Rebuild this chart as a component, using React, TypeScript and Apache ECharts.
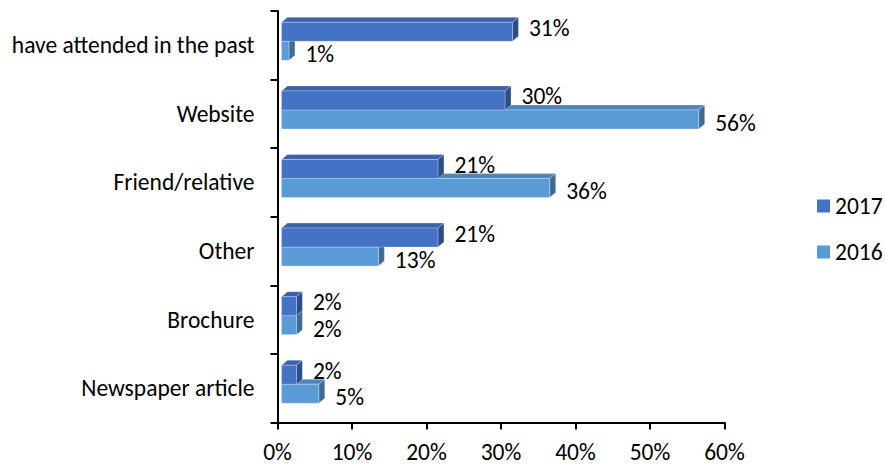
import React, { useEffect, useRef } from "react";
import * as echarts from "echarts";

const categories = [
  "have attended in the past",
  "Website",
  "Friend/relative",
  "Other",
  "Brochure",
  "Newspaper article",
];
const values2017 = [31, 30, 21, 21, 2, 2];
const values2016 = [1, 56, 36, 13, 2, 5];
const xTicksMax = 60;

const FONT = "Carlito, Lato, sans-serif";
const FS = 23.5;

function makeRender(
  front: string,
  top: string,
  side: string,
  y0off: number,
  y1off: number,
  labelDy: number
) {
  return (params: any, api: any) => {
    const v = api.value(0);
    const c = api.value(1);
    const p = api.coord([v, c]);
    const p0 = api.coord([0, c]);
    const cy = p[1];
    const xa = p0[0] + 4;
    const xb = p[0] + 4;
    const ya = cy + y0off;
    const yb = cy + y1off;
    const dx = 6;
    const dy = 5;
    const edge = { stroke: "rgba(255,255,255,0.35)", lineWidth: 0.8 };
    return {
      type: "group",
      children: [
        {
          type: "polygon",
          shape: { points: [[xa, ya], [xb, ya], [xb + dx, ya - dy], [xa + dx, ya - dy]] },
          style: { fill: top, ...edge },
        },
        {
          type: "polygon",
          shape: { points: [[xb, ya], [xb, yb], [xb + dx, yb - dy], [xb + dx, ya - dy]] },
          style: { fill: side, ...edge },
        },
        {
          type: "rect",
          shape: { x: xa, y: ya, width: Math.max(xb - xa, 0), height: yb - ya },
          style: { fill: front, ...edge },
        },
        {
          type: "text",
          x: xb + 16.5,
          y: (ya + yb) / 2 + labelDy,
          style: {
            text: v + "%",
            fill: "#000",
            fontSize: FS,
            fontFamily: FONT,
            verticalAlign: "middle",
            align: "left",
          },
        },
      ],
    };
  };
}

export default function App() {
  const ref = useRef<HTMLDivElement>(null);
  useEffect(() => {
    if (!ref.current) return;
    const chart = echarts.init(ref.current, null, { renderer: "svg" });
    chart.setOption({
      animation: false,
      backgroundColor: "#fff",
      grid: { left: 277.5, right: 160.5, top: 11, bottom: 46.5, containLabel: false },
      legend: {
        orient: "vertical",
        left: 812,
        top: 189,
        icon: "rect",
        itemWidth: 13,
        itemHeight: 13,
        itemGap: 22,
        data: ["2017", "2016"],
        textStyle: { fontSize: FS, fontFamily: FONT, color: "#000", lineHeight: 24 },
      },
      xAxis: {
        type: "value",
        min: 0,
        max: xTicksMax,
        interval: 10,
        axisLine: { show: true, lineStyle: { color: "#000", width: 2 } },
        axisTick: { show: true, length: 7, lineStyle: { color: "#000", width: 2 } },
        splitLine: { show: false },
        axisLabel: {
          formatter: "{value}%",
          fontSize: FS,
          fontFamily: FONT,
          color: "#000",
          margin: 17,
        },
      },
      yAxis: {
        type: "category",
        inverse: true,
        data: categories,
        axisLine: { show: true, lineStyle: { color: "#000", width: 2 } },
        axisTick: { show: true, length: 7, lineStyle: { color: "#000", width: 2 } },
        axisLabel: { fontSize: FS, fontFamily: FONT, color: "#000", margin: 23 },
      },
      series: [
        {
          name: "2016",
          type: "custom",
          itemStyle: { color: "#5B9BD5" },
          renderItem: makeRender("#5B9BD5", "#4F86B9", "#3F6A93", -4, 15, 3.5),
          encode: { x: 0, y: 1 },
          data: values2016.map((v, i) => [v, i]),
        },
        {
          name: "2017",
          type: "custom",
          itemStyle: { color: "#4472C4" },
          renderItem: makeRender("#4472C4", "#3A61AA", "#2E4D87", -23, -4, -4),
          encode: { x: 0, y: 1 },
          data: values2017.map((v, i) => [v, i]),
        },
      ],
    });
    return () => chart.dispose();
  }, []);
  return (
    <div
      ref={ref}
      style={{ position: "fixed", left: 0, top: 0, width: 885, height: 469, background: "#fff" }}
    />
  );
}
